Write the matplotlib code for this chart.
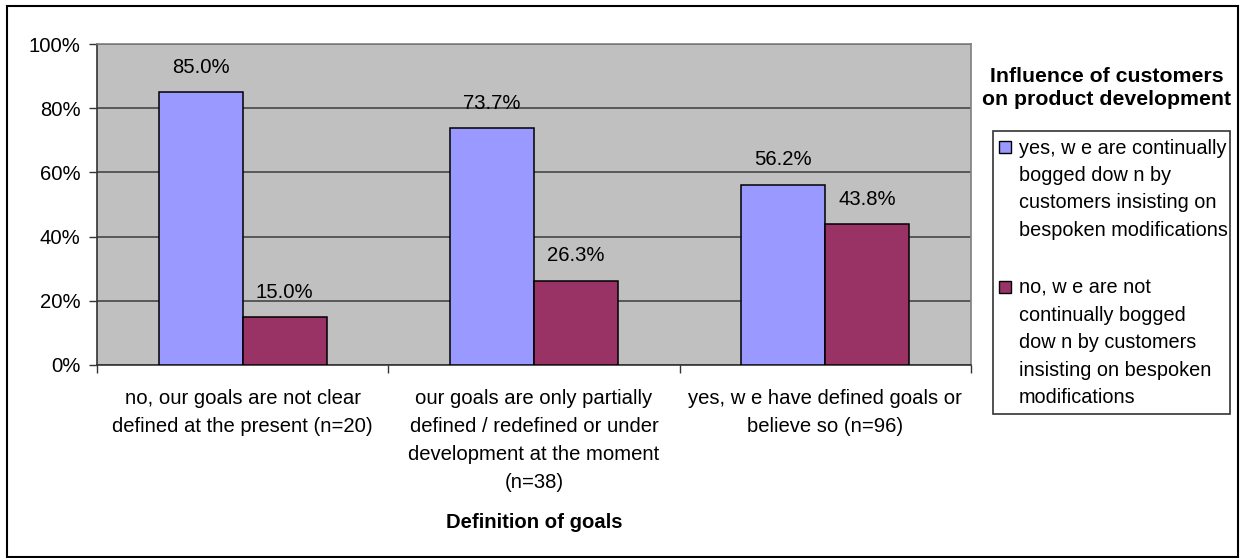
import matplotlib
matplotlib.use("Agg")
import matplotlib.pyplot as plt
from matplotlib.patches import Rectangle
from matplotlib.ticker import FuncFormatter
import numpy as np

plt.rcParams['font.family'] = ['Liberation Sans', 'DejaVu Sans']

# data
categories = ["no, our goals are not clear\ndefined at the present (n=20)",
              "our goals are only partially\ndefined / redefined or under\ndevelopment at the moment\n(n=38)",
              "yes, w e have defined goals or\nbelieve so (n=96)"]
yes_values = [85.0, 73.7, 56.2]
no_values = [15.0, 26.3, 43.8]
series_names = ["yes, w e are continually\nbogged dow n by\ncustomers insisting on\nbespoken modifications",
                "no, w e are not\ncontinually bogged\ndow n by customers\ninsisting on bespoken\nmodifications"]
legend_title = "Influence of customers\non product development"
x_title = "Definition of goals"

blue = "#9999FF"
red = "#993366"
fs = 14.6

W, H = 1242, 558


def fx(px):
    return px / W


def fy(py):
    return 1 - py / H


fig = plt.figure(figsize=(12.42, 5.58), dpi=100)

#outer chart border
fig.add_artist(Rectangle((fx(7), fy(557)), fx(1238) - fx(7), fy(6) - fy(557),
                         transform=fig.transFigure, fill=False, edgecolor="black", linewidth=1.5))

ax = fig.add_axes([fx(97), fy(365), fx(971) - fx(97), fy(44) - fy(365)])
ax.set_facecolor("#C0C0C0")

x = np.arange(len(categories))
w = 0.288
bars_yes = ax.bar(x - w / 2, yes_values, w, color=blue, edgecolor="black", linewidth=1.1, zorder=3)
bars_no = ax.bar(x + w / 2, no_values, w, color=red, edgecolor="black", linewidth=1.1, zorder=3)

ax.bar_label(bars_yes, fmt="%.1f%%", padding=11, fontsize=fs)
ax.bar_label(bars_no, fmt="%.1f%%", padding=11, fontsize=fs)

ax.set_xlim(-0.5, 2.5)
ax.set_ylim(0, 100)
ax.set_yticks(np.arange(0, 101, 20))
ax.yaxis.set_major_formatter(FuncFormatter(lambda v, p: "%d%%" % v))
ax.grid(axis="y", color="#3c3c3c", linewidth=1.1, zorder=0)
ax.set_axisbelow(True)

# category labels, tick marks on category borders
ax.set_xticks(x)
ax.set_xticklabels(categories, fontsize=fs)
for t in ax.get_xticklabels():
    t.set_linespacing(1.6)
ax.set_xticks([-0.5, 0.5, 1.5, 2.5], minor=True)
ax.tick_params(axis="x", which="major", length=0, pad=17)
ax.tick_params(axis="x", which="minor", length=6, width=1, color="#333333")
ax.tick_params(axis="y", length=6, width=1, color="#333333", labelsize=fs, pad=6)

for s in ["top", "right"]:
    ax.spines[s].set_color("#808080")
    ax.spines[s].set_linewidth(1.2)
for s in ["left", "bottom"]:
    ax.spines[s].set_color("#333333")
    ax.spines[s].set_linewidth(1.2)

ax.set_xlabel(x_title, fontsize=fs, fontweight="bold")
ax.xaxis.set_label_coords(0.5, -(513 - 365) / 321)

#legend drawn by hand
fig.text(fx(1107), fy(88), legend_title, fontsize=15.3, fontweight="bold",
         ha="center", va="center", linespacing=1.25)
fig.add_artist(Rectangle((fx(993), fy(414)), fx(1230) - fx(993), fy(131) - fy(414),
                         transform=fig.transFigure, fill=False, edgecolor="#333333", linewidth=1.2))
for name, color, top in zip(series_names, [blue, red], [147, 287]):
    fig.add_artist(Rectangle((fx(999), fy(top + 6)), fx(12), 12 / H,
                             transform=fig.transFigure, facecolor=color,
                             edgecolor="black", linewidth=1))
    fig.text(fx(1019), fy(top - 8), name, fontsize=14.3, ha="left", va="top", linespacing=1.55)

fig.savefig("out.png", dpi=100)
